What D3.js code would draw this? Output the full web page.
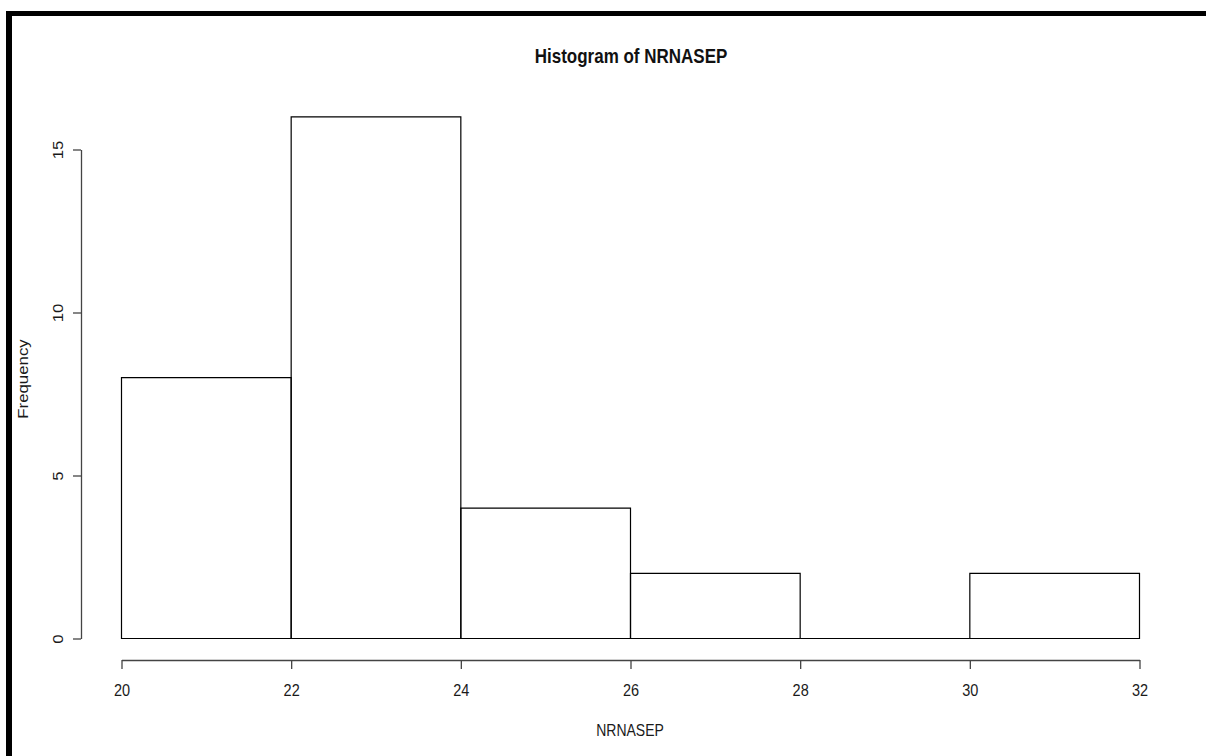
<!DOCTYPE html>
<html><head><meta charset="utf-8">
<script src="https://cdn.jsdelivr.net/npm/d3@7"></script>
<style>body{margin:0;background:#fff;}svg{display:block;}</style>
</head><body>
<svg id="c" width="1206" height="756"></svg>
<script>
const binEdges = [20, 22, 24, 26, 28, 30, 32];
const counts = [8, 16, 4, 2, 0, 2];
const xTicks = [20, 22, 24, 26, 28, 30, 32];
const yTicks = [0, 5, 10, 15];
const title = "Histogram of NRNASEP";
const xLabel = "NRNASEP";
const yLabel = "Frequency";

const svg = d3.select("#c");
const font = "'Liberation Sans', Arial, sans-serif";
svg.append("rect").attr("width",1206).attr("height",756).attr("fill","#fff");
// frame border (left & top)
svg.append("rect").attr("x",6).attr("y",11).attr("width",6).attr("height",745).attr("fill","#000");
svg.append("rect").attr("x",6).attr("y",11).attr("width",1200).attr("height",5).attr("fill","#000");

const x = d3.scaleLinear().domain([20,32]).range([121.5,1139.5]);
const y = d3.scaleLinear().domain([0,15]).range([638.5,149.5]);

const bins = counts.map((c,i)=>({x0:binEdges[i],x1:binEdges[i+1],n:c}));
svg.append("g").selectAll("path").data(bins).join("path")
  .attr("d",d=>`M${x(d.x0)},${y(0)}H${x(d.x1)}V${y(d.n)}H${x(d.x0)}Z`)
  .attr("fill","none").attr("stroke","#000").attr("stroke-width",1.2);

const xa = svg.append("g").attr("transform","translate(0,660)")
  .call(d3.axisBottom(x).tickValues(xTicks).tickSize(9).tickSizeOuter(0));
const ya = svg.append("g").attr("transform","translate(81,0)")
  .call(d3.axisLeft(y).tickValues(yTicks).tickSize(8).tickSizeOuter(0).tickFormat(d3.format("d")));
[xa,ya].forEach(a=>{
  a.attr("font-size",null).attr("font-family",null);
  a.select(".domain").attr("stroke","#444").attr("stroke-width",1.3);
  a.selectAll(".tick line").attr("stroke","#444").attr("stroke-width",1.3);
  a.selectAll(".tick text").attr("font-family",font).attr("font-size",14.5).attr("fill","#1a1a1a")
    .attr("x",null).attr("y",null).attr("dy",null).attr("text-anchor","middle");
});
xa.selectAll(".tick text").attr("transform","translate(0,36) scale(1,1.15)");
ya.selectAll(".tick text").attr("transform","translate(-18,0) rotate(-90) scale(1.15,1)");

svg.append("text").attr("transform","translate(631,63) scale(1,1.2)").attr("text-anchor","middle")
  .attr("font-family",font).attr("font-weight","bold").attr("font-size",17).attr("fill","#111").text(title);
svg.append("text").attr("transform","translate(630,736) scale(1,1.2)").attr("text-anchor","middle")
  .attr("font-family",font).attr("font-size",14).attr("fill","#1a1a1a").text(xLabel);
svg.append("text").attr("transform","translate(28,379) rotate(-90) scale(1.2,1)").attr("text-anchor","middle")
  .attr("font-family",font).attr("font-size",14).attr("fill","#1a1a1a").text(yLabel);
</script>
</body></html>
